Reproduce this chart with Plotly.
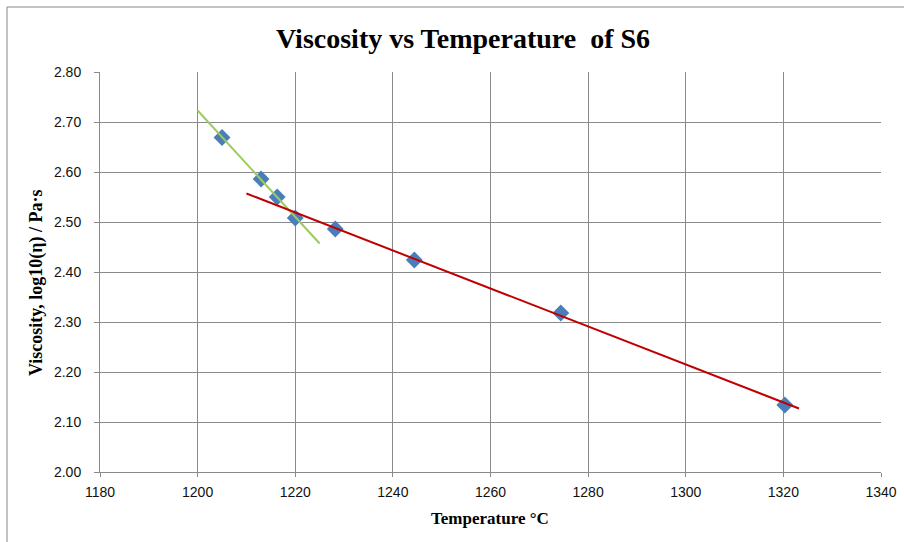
import plotly.graph_objects as go

# Data
temperature = [1205, 1213, 1216.3, 1220, 1228.2, 1244.4, 1274.4, 1320.3]
viscosity = [2.669, 2.586, 2.550, 2.508, 2.486, 2.424, 2.318, 2.134]

# Trendline endpoints
green_x = [1200, 1225]
green_y = [2.723, 2.457]
red_x = [1210, 1323.2]
red_y = [2.557, 2.127]

x_ticks = [1180, 1200, 1220, 1240, 1260, 1280, 1300, 1320, 1340]
y_ticks = [2.00, 2.10, 2.20, 2.30, 2.40, 2.50, 2.60, 2.70, 2.80]

grid = "#8a8a8a"
tickfont = dict(family="Liberation Sans Narrow, Liberation Sans, sans-serif", size=14, color="#111111")
serif = "Liberation Serif, Times New Roman, serif"

fig = go.Figure()
fig.add_trace(go.Scatter(
    x=temperature, y=viscosity, mode="markers",
    marker=dict(symbol="diamond", size=13, color="#4a7ebb"),
    showlegend=False, hoverinfo="x+y"))
fig.add_trace(go.Scatter(
    x=green_x, y=green_y, mode="lines",
    line=dict(color="#9bcb5c", width=2), showlegend=False))
fig.add_trace(go.Scatter(
    x=red_x, y=red_y, mode="lines",
    line=dict(color="#c00000", width=2), showlegend=False))

L, R, T, B = 100, 23, 72, 70
W, H = 904, 542
pw = W - L - R
ph = H - T - B

def px_x(p):
    return (p - L) / pw

def px_y(p):
    return (H - B - p) / ph

fig.add_shape(type="rect", xref="paper", yref="paper",
              x0=px_x(7), x1=px_x(920), y0=px_y(560), y1=px_y(7),
              line=dict(color="#888888", width=1), fillcolor="rgba(0,0,0,0)", layer="below")

fig.add_annotation(text="Temperature °C", xref="paper", yref="paper",
                   x=px_x(490), y=px_y(518), xanchor="center", yanchor="middle",
                   showarrow=False,
                   font=dict(family=serif, size=17, color="black", weight="bold"))
fig.add_annotation(text="Viscosity, log10(η) / Pa·s", xref="paper", yref="paper",
                   x=px_x(36), y=px_y(283), xanchor="center", yanchor="middle",
                   textangle=-90, showarrow=False,
                   font=dict(family=serif, size=18, color="black", weight="bold"))

fig.update_layout(
    width=W, height=H,
    margin=dict(l=L, r=R, t=T, b=B, autoexpand=False),
    paper_bgcolor="white", plot_bgcolor="white",
    title=dict(text="Viscosity vs Temperature  of S6", x=px_x(463), xanchor="center",
               xref="paper", y=1 - 38 / H, yanchor="middle",
               font=dict(family=serif, size=28, color="black", weight="bold")),
    xaxis=dict(range=[1180, 1340], tickvals=x_ticks, ticktext=[str(v) for v in x_ticks],
               showgrid=True, gridcolor=grid, gridwidth=1, automargin=False,
               showline=True, linecolor=grid, linewidth=1, mirror=False,
               ticks="outside", ticklen=4, tickcolor=grid, tickfont=tickfont,
               ticklabelstandoff=3, zeroline=False),
    yaxis=dict(range=[2.0, 2.8], tickvals=y_ticks, ticktext=["%.2f" % v for v in y_ticks],
               showgrid=True, gridcolor=grid, gridwidth=1, automargin=False,
               showline=True, linecolor=grid, linewidth=1,
               ticks="outside", ticklen=5, tickcolor=grid, tickfont=tickfont,
               ticklabelstandoff=10, zeroline=False),
)

fig.write_html("out.html")
